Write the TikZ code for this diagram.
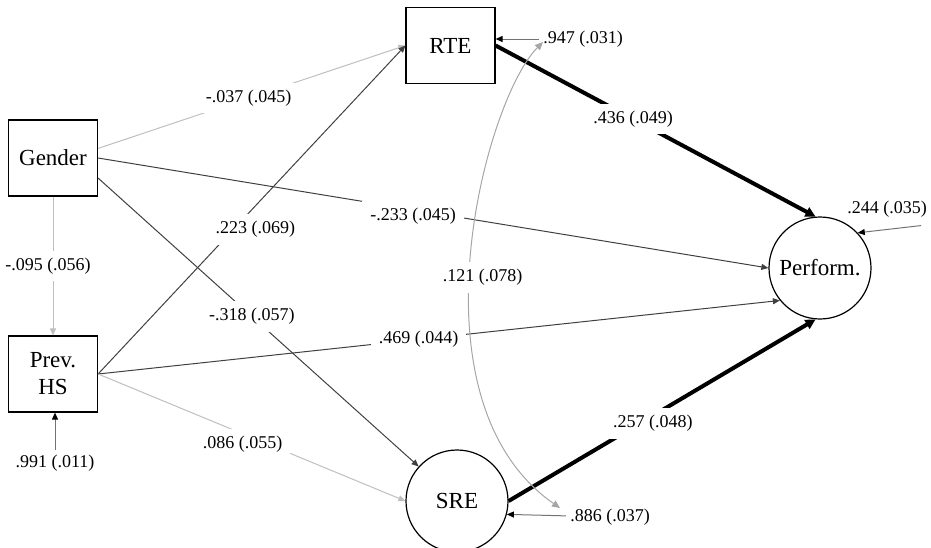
\documentclass[tikz,border=0pt]{standalone}
\usepackage{fontspec}
\setmainfont{Liberation Serif}
\usetikzlibrary{arrows.meta}

\begin{document}
\begin{tikzpicture}[x = 0.5pt, y = -0.5pt,
	obs/.style = {draw, line width = 0.6pt, minimum width = 44.5pt, minimum height = 38pt, align = center, font = \fontsize{11.5}{13.5}\selectfont},
	lat/.style = {draw, circle, line width = 0.6pt, minimum size = 51pt, inner sep = 0pt, font = \fontsize{11.5}{13.5}\selectfont},
	est/.style = {fill = white, inner xsep = 4pt, inner ysep = 3.5pt, font = \fontsize{9}{10}\selectfont},
	res/.style = {inner sep = 2pt, font = \fontsize{9}{10}\selectfont},
	faintarrow/.style = {draw = black!25, line width = 0.5pt, -{Triangle[length = 3.5pt, width = 3pt]}},
	darkarrow/.style = {draw = black!75, line width = 0.5pt, -{Triangle[length = 3.5pt, width = 3pt]}},
	boldarrow/.style = {draw = black, line width = 2pt, -{Triangle[length = 5pt, width = 5pt]}},
	residarrow/.style = {draw = black!55, line width = 0.5pt, -{Triangle[length = 3.5pt, width = 3pt, color = black]}},
	covarrow/.style = {draw = black!35, line width = 0.5pt, {Triangle[length = 4pt, width = 3.5pt]}-{Triangle[length = 4pt, width = 3.5pt]}}]
	\useasboundingbox (0, 0) rectangle (931, 547);

	% variables
	\node[obs] (gender)  at (53, 158)    {Gender};
	\node[obs] (prevhs)  at (53, 374)    {Prev.\\HS};
	\node[obs] (rte)     at (450.5, 45.5) {RTE};
	\node[lat] (sre)     at (457, 501)   {SRE};
	\node[lat] (perform) at (820, 268)   {Perform.};

	% residual variances
	\node[res] (r991) at (55, 463)  {.991 (.011)};
	\node[res] (r947) at (583, 39)  {.947 (.031)};
	\node[res] (r886) at (610, 517) {.886 (.037)};
	\node[res] (r244) at (887, 209) {.244 (.035)};

	% regressions
	\draw[faintarrow] (gender.12) -- node[est, pos = 0.49] {-.037 (.045)} (rte.west);
	\draw[darkarrow] (gender.east) -- node[est, pos = 0.47, yshift = -3pt] {-.233 (.045)} (perform.west);
	\draw[darkarrow] (gender.-24) -- node[est, pos = 0.48] {-.318 (.057)} (sre.138);
	\draw[faintarrow] (gender) -- node[est, pos = 0.5, xshift = -2.5pt] {-.095 (.056)} (prevhs);
	\draw[darkarrow] (prevhs.east) -- node[est, pos = 0.44, xshift = 11pt] {.223 (.069)} (rte.west);
	\draw[darkarrow] (prevhs.east) -- node[est, pos = 0.47] {.469 (.044)} (perform.219);
	\draw[faintarrow] (prevhs.east) -- node[est, pos = 0.47, yshift = -5pt] {.086 (.055)} (sre.west);
	\draw[boldarrow] (rte.east) -- node[est, pos = 0.43] {.436 (.049)} (perform.95);
	\draw[boldarrow] (sre.east) -- node[est, pos = 0.47, yshift = -4pt] {.257 (.048)} (perform.265);

	\draw[residarrow] (r991) -- (r991 |- prevhs.south);
	\draw[residarrow] (r947) -- (r947 -| rte.east);
	\draw[residarrow] (r886) -- (sre.-15);
	\draw[residarrow] ([xshift = -5pt, yshift = -2pt]r244.south east) -- (perform.43);

	% covariance
	\coordinate (covtop) at (543, 42);
	\coordinate (covbot) at (560, 508);
	\draw[covarrow] (covtop) .. controls (485, 100) and (405, 400) .. node[est, pos = 0.53, xshift = 6pt, yshift = -2pt] {.121 (.078)} (covbot);
%	\draw[covarrow] (rte.east) to[bend right] (sre.east);

\end{tikzpicture}
\end{document}
